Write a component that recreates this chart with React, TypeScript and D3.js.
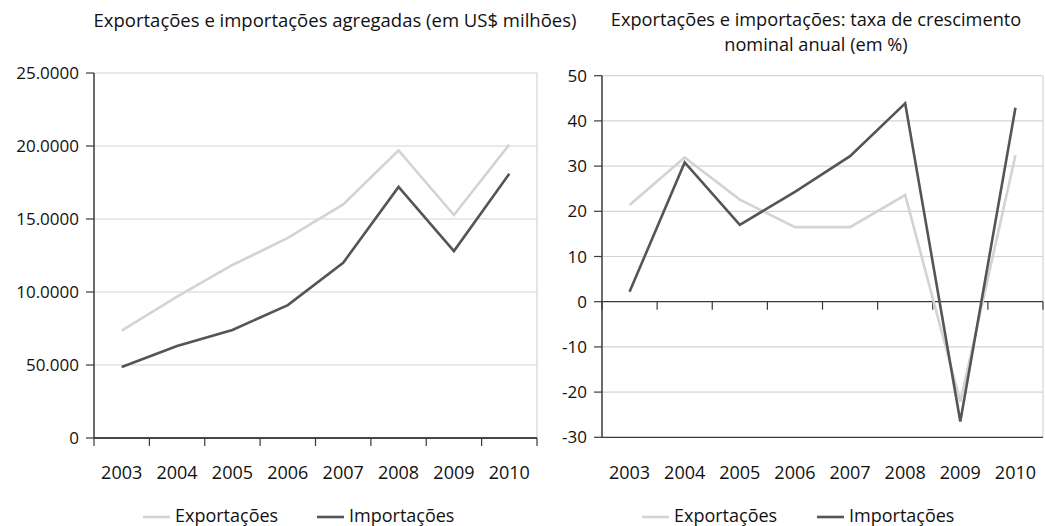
import React from 'react';
import * as d3 from 'd3';

const years = ['2003', '2004', '2005', '2006', '2007', '2008', '2009', '2010'];

// aggregated values (US$ millions)
const exportacoes = [73500, 96800, 118500, 137000, 160000, 197000, 152700, 201000];
const importacoes = [48600, 63000, 74000, 91000, 120000, 172000, 128000, 181000];
const levelTicks = [0, 50000, 100000, 150000, 200000, 250000];
const levelTickLabels = ['0', '50.000', '10.0000', '15.0000', '20.0000', '25.0000'];

// nominal annual growth (%)
const crescExport = [21.4, 31.9, 22.6, 16.5, 16.5, 23.6, -22.1, 32.4];
const crescImport = [2.2, 30.8, 17.0, 24.3, 32.2, 43.9, -26.5, 42.9];
const growthTicks = [-30, -20, -10, 0, 10, 20, 30, 40, 50];

const seriesNames = ['Exportações', 'Importações'];
const EXP_COLOR = '#d3d3d3';
const IMP_COLOR = '#555555';
const GRID = '#d4d4d4';
const AXIS = '#3a3a3a';
const TEXT = '#111';
const FONT = '"Open Sans", sans-serif';

interface PanelProps {
  left: number;
  right: number;
  top: number;
  bottom: number;
  domain: [number, number];
  ticks: number[];
  tickLabels: string[];
  baseline: number;
  exp: number[];
  imp: number[];
  labelY: number;
  legendX: number;
  legendGap: number;
}

const Panel: React.FC<PanelProps> = (p) => {
  const x = d3.scaleBand().domain(years).range([p.left, p.right]);
  const y = d3.scaleLinear().domain(p.domain).range([p.bottom, p.top]);
  const cx = (d: string) => (x(d) || 0) + x.bandwidth() / 2;
  const line = d3.line<number>().x((_, i) => cx(years[i])).y(d => y(d));
  const bounds = years.map(d => x(d) || 0).concat([p.right]);
  const by = y(p.baseline);

  return (
    <g fontFamily={FONT} fill={TEXT}>
      {p.ticks.filter(t => t !== p.baseline && t !== p.domain[0]).map(t => (
        <line key={t} x1={p.left} x2={p.right} y1={y(t)} y2={y(t)} stroke={GRID} strokeWidth={1.2} />
      ))}
      <line x1={p.right} x2={p.right} y1={p.top} y2={p.bottom} stroke={GRID} strokeWidth={1.2} />
      <line x1={p.left} x2={p.right} y1={p.bottom} y2={p.bottom} stroke={AXIS} strokeWidth={1.3} />
      <line x1={p.left} x2={p.right} y1={by} y2={by} stroke={AXIS} strokeWidth={1.3} />
      {bounds.map((b, i) => (
        <line key={i} x1={b} x2={b} y1={by} y2={by + 8} stroke={AXIS} strokeWidth={1.2} />
      ))}
      <line x1={p.left} x2={p.left} y1={p.top} y2={p.bottom} stroke={AXIS} strokeWidth={1.5} />
      {p.ticks.map((t, i) => (
        <g key={t}>
          <line x1={p.left - 8} x2={p.left} y1={y(t)} y2={y(t)} stroke={AXIS} strokeWidth={1.2} />
          <text x={p.left - 15} y={y(t)} dy="0.36em" textAnchor="end" fontSize={17}>
            {p.tickLabels[i]}
          </text>
        </g>
      ))}
      {years.map(d => (
        <text key={d} x={cx(d)} y={p.labelY} textAnchor="middle" fontSize={18}>{d}</text>
      ))}
      <path d={line(p.exp) || ''} fill="none" stroke={EXP_COLOR} strokeWidth={2.6} />
      <path d={line(p.imp) || ''} fill="none" stroke={IMP_COLOR} strokeWidth={2.6} />
      {seriesNames.map((name, i) => {
        const lx = p.legendX + i * p.legendGap;
        return (
          <g key={name}>
            <line x1={lx} x2={lx + 27} y1={517} y2={517} stroke={i === 0 ? EXP_COLOR : IMP_COLOR} strokeWidth={2.6} />
            <text x={lx + 32} y={522} fontSize={18}>{name}</text>
          </g>
        );
      })}
    </g>
  );
};

export default function App() {
  return (
    <svg width={1045} height={526} style={{ position: 'absolute', left: 0, top: 0, background: '#fff' }}>
      <text x={335} y={27} textAnchor="middle" fontFamily={FONT} fontSize={18.5} fill={TEXT}>
        Exportações e importações agregadas (em US$ milhões)
      </text>
      <text x={816} y={26} textAnchor="middle" fontFamily={FONT} fontSize={18.2} fill={TEXT}>
        Exportações e importações: taxa de crescimento
      </text>
      <text x={816} y={51} textAnchor="middle" fontFamily={FONT} fontSize={18.2} fill={TEXT}>
        nominal anual (em %)
      </text>
      <Panel
        left={94} right={537} top={73} bottom={438}
        domain={[0, 250000]} ticks={levelTicks} tickLabels={levelTickLabels} baseline={0}
        exp={exportacoes} imp={importacoes} labelY={479} legendX={143} legendGap={174}
      />
      <Panel
        left={602} right={1043} top={75.7} bottom={437.3}
        domain={[-30, 50]} ticks={growthTicks} tickLabels={growthTicks.map(String)} baseline={0}
        exp={crescExport} imp={crescImport} labelY={479} legendX={642} legendGap={175}
      />
    </svg>
  );
}
